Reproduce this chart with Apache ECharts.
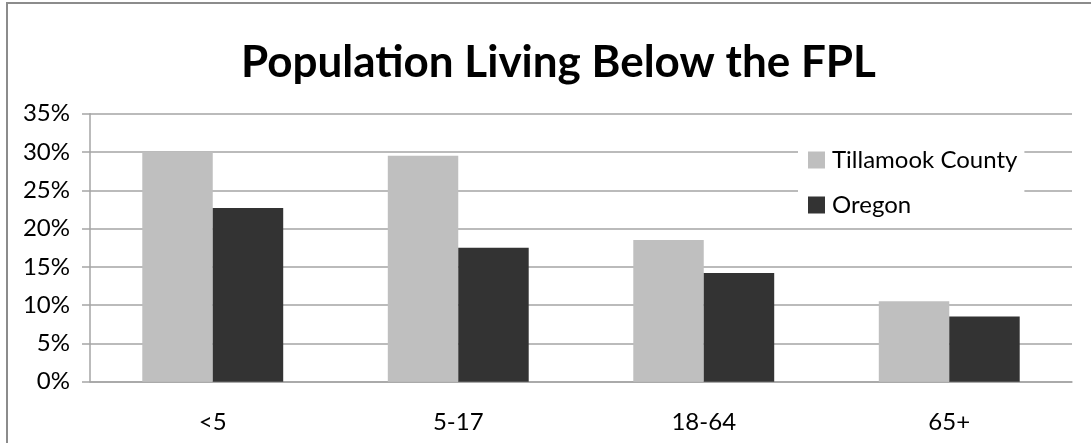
<!DOCTYPE html>
<html>
<head>
<meta charset="utf-8">
<script src="https://cdn.jsdelivr.net/npm/echarts@6/dist/echarts.min.js"></script>
<style>
html,body{margin:0;padding:0;background:#fff;}
#chart{width:1091px;height:443px;}
</style>
</head>
<body>
<div id="chart"></div>
<script>
const categories = ['<5', '5-17', '18-64', '65+'];
const tillamook = [0.300, 0.295, 0.185, 0.105];
const oregon = [0.227, 0.175, 0.142, 0.085];
const seriesNames = ['Tillamook County', 'Oregon'];
const titleText = 'Population Living Below the FPL';

const FONT = 'Lato';
const chart = echarts.init(document.getElementById('chart'));
chart.setOption({
  animation: false,
  backgroundColor: '#ffffff',
  title: {
    text: titleText,
    left: 241,
    top: 41,
    padding: 0,
    textStyle: { fontFamily: FONT, fontWeight: 'bold', fontSize: 44, color: '#000' }
  },
  graphic: [{
    type: 'rect', silent: true, z: 100,
    shape: { x: 7, y: 3, width: 1200, height: 600 },
    style: { fill: 'none', stroke: '#8c8c8c', lineWidth: 2 }
  }],
  legend: {
    data: seriesNames,
    orient: 'vertical',
    left: 798,
    top: 140,
    padding: [8, 7, 8, 10],
    backgroundColor: '#ffffff',
    itemWidth: 17,
    itemHeight: 17,
    itemGap: 21,
    icon: 'rect',
    textStyle: { fontFamily: FONT, fontSize: 24, color: '#000', padding: [0, 0, 0, 2] }
  },
  grid: { left: 90, right: 19, top: 113.7, bottom: 61.3, containLabel: false },
  xAxis: {
    type: 'category',
    data: categories,
    axisLine: { lineStyle: { color: '#a5a5a5', width: 1.5 } },
    axisTick: { length: 8, lineStyle: { color: '#a5a5a5', width: 1.5 } },
    axisLabel: { fontFamily: FONT, fontSize: 24, color: '#000', margin: 29 }
  },
  yAxis: {
    type: 'value',
    min: 0, max: 0.35, interval: 0.05,
    axisLine: { show: true, lineStyle: { color: '#a5a5a5', width: 1.5 } },
    axisTick: { show: true, length: 8, lineStyle: { color: '#a5a5a5', width: 1.5 } },
    splitLine: { lineStyle: { color: '#a5a5a5', width: 1.5 } },
    axisLabel: {
      fontFamily: FONT, fontSize: 24, color: '#000', margin: 20,
      formatter: v => Math.round(v * 100) + '%'
    }
  },
  series: [
    { name: seriesNames[0], type: 'bar', data: tillamook, barGap: '0%', barCategoryGap: '42.6%',
      itemStyle: { color: '#bfbfbf' } },
    { name: seriesNames[1], type: 'bar', data: oregon, barGap: '0%', barCategoryGap: '42.6%',
      itemStyle: { color: '#333333' } }
  ]
});
</script>
</body>
</html>
